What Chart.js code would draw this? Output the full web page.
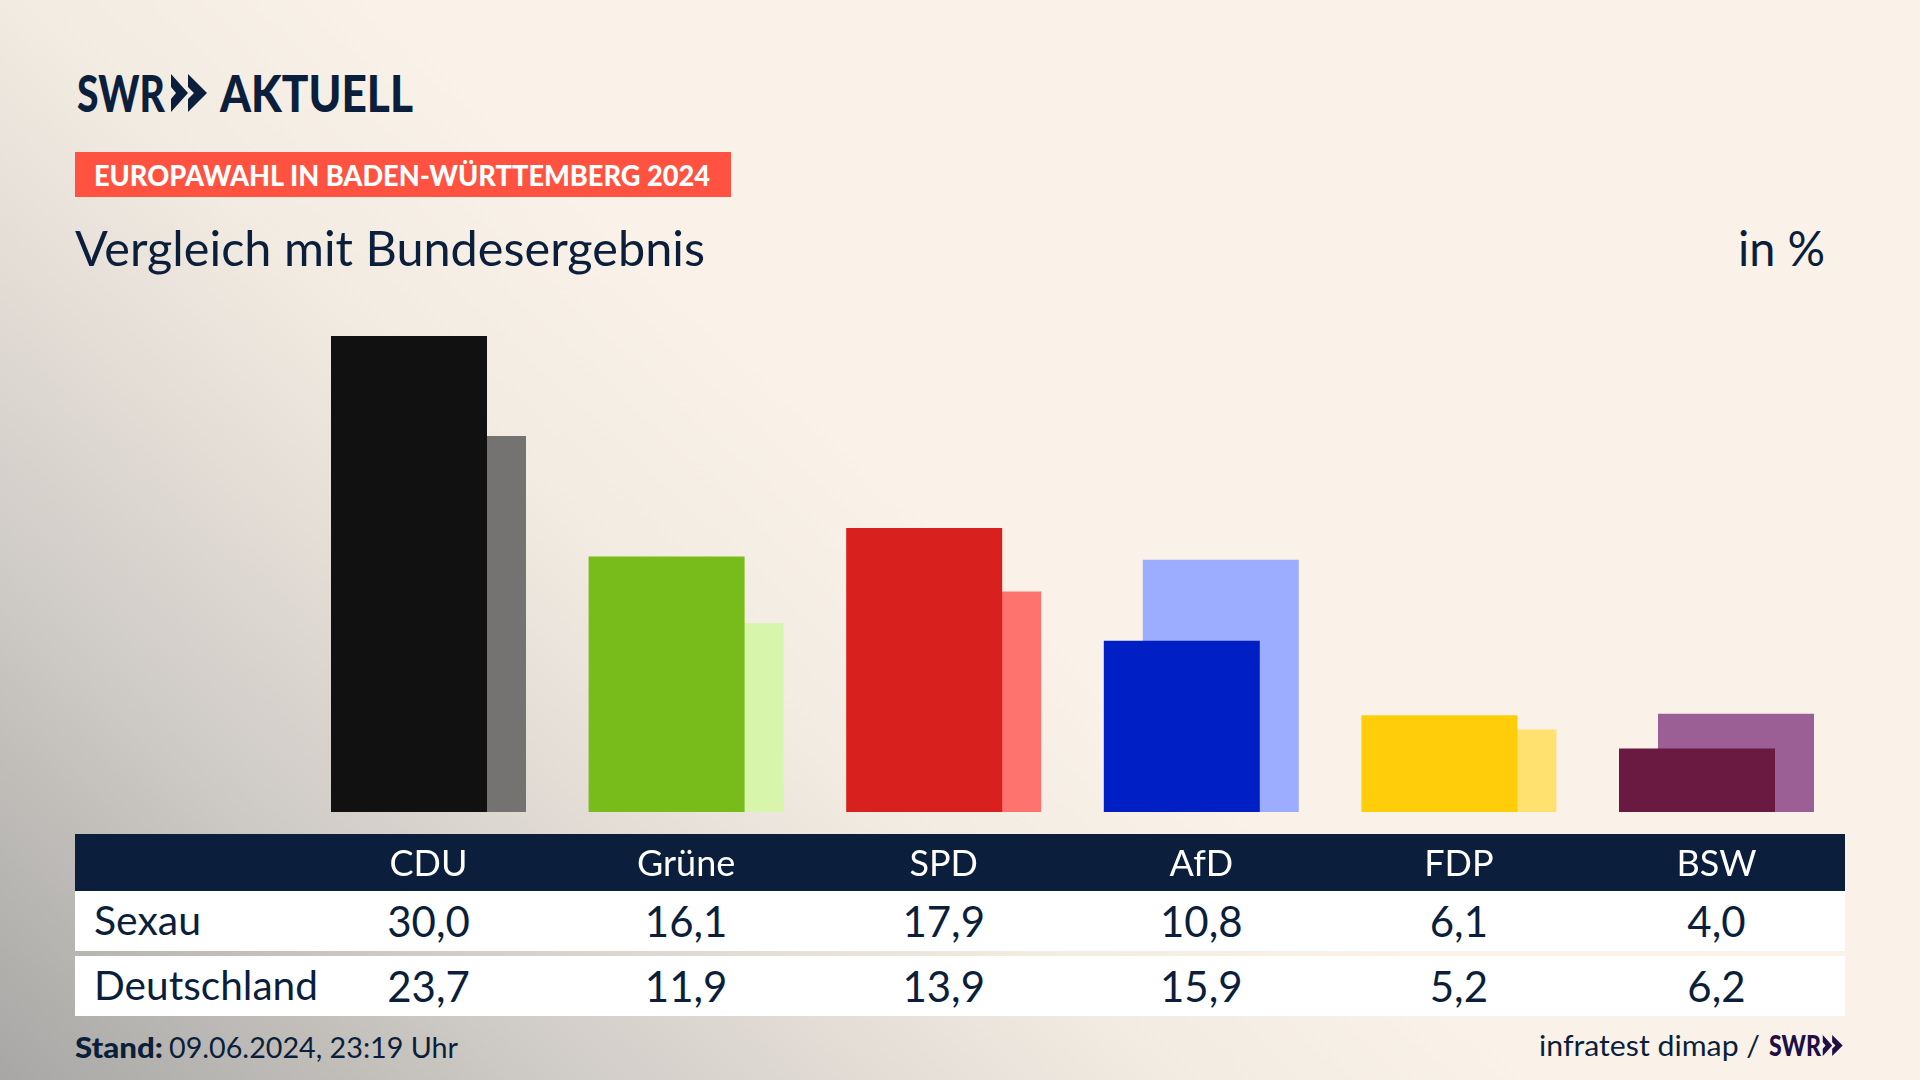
<!DOCTYPE html>
<html lang="de">
<head>
<meta charset="utf-8">
<title>Europawahl in Baden-Württemberg 2024</title>
<script src="https://cdn.jsdelivr.net/npm/chart.js@4/dist/chart.umd.min.js"></script>
<style>
  html,body{margin:0;padding:0;width:1920px;height:1080px;overflow:hidden}
  body{position:relative;font-family:Lato,"Open Sans",sans-serif;color:#0b1f3c;
    background:linear-gradient(43deg,#a8a7a5 0%,#cfcbc6 18%,#e6dfd8 30%,#f2ebe1 38%,#faf2e8 50%,#faf2e8 100%)}
  .t{position:absolute;white-space:nowrap;transform-origin:0 50%;line-height:1}
  .band{position:absolute;left:75px;width:1770px}
  .cell{position:absolute;transform:translateX(-50%);white-space:nowrap;line-height:1;font-size:42px}
  canvas{position:absolute;left:0;top:0}
  svg{position:absolute}
</style>
</head>
<body>
<div class="band" style="top:834px;height:57px;background:#0b1f3c"></div>
<div class="band" style="top:891px;height:60px;background:#fff"></div>
<div class="band" style="top:956px;height:60px;background:#fff"></div>

<div class="t" data-w="88" style="left:77px;top:67px;font-size:51px;font-weight:900">SWR</div>
<svg style="left:171px;top:74px" width="37" height="38" viewBox="0 0 37 38"><path fill="#0b1f3c" d="M0 0 L17 19 L0 38 L0 25 L5 19 L0 13 Z M17 0 L36 19 L17 38 L17 25 L23 19 L17 13 Z"/></svg>
<div class="t" data-w="193" style="left:220px;top:67px;font-size:51px;font-weight:900">AKTUELL</div>

<div style="position:absolute;left:75px;top:152px;width:656px;height:45px;background:#ff5240"></div>
<div class="t" data-w="616" style="left:94px;top:160px;font-size:29px;font-weight:900;color:#fff">EUROPAWAHL IN BADEN-WÜRTTEMBERG 2024</div>
<div class="t" data-w="630" style="left:75px;top:224px;font-size:48px">Vergleich mit Bundesergebnis</div>
<div class="t" data-w="87" style="left:1738px;top:224px;font-size:48px">in %</div>

<div id="rows"></div>

<div class="t" data-w="88" style="left:75px;top:1032px;font-size:29px;font-weight:900">Stand:</div>
<div class="t" data-w="289" style="left:169px;top:1032px;font-size:29px">09.06.2024, 23:19 Uhr</div>
<div class="t" data-w="221" style="left:1539px;top:1030px;font-size:29px">infratest dimap /</div>
<div class="t" data-w="52" style="left:1769px;top:1031px;font-size:28px;font-weight:900;color:#1f0f45">SWR</div>
<svg style="left:1822px;top:1035px" width="22" height="21" viewBox="0 0 37 38"><path fill="#1f0f45" d="M0 0 L17 19 L0 38 L0 25 L5 19 L0 13 Z M17 0 L36 19 L17 38 L17 25 L23 19 L17 13 Z"/></svg>

<canvas id="chart" width="1920" height="1080"></canvas>

<script>
const parties     = ["CDU", "Grüne", "SPD", "AfD", "FDP", "BSW"];
const sexau       = [30.0, 16.1, 17.9, 10.8, 6.1, 4.0];
const deutschland = [23.7, 11.9, 13.9, 15.9, 5.2, 6.2];
const rowNames    = ["Sexau", "Deutschland"];
const darkColors  = ["#111111", "#78bc1b", "#d8201e", "#0020c6", "#ffcd0a", "#6a1a40"];
const lightColors = ["#747372", "#d7f5ab", "#ff736e", "#9cacff", "#ffe170", "#9b5f96"];

const de = v => v.toFixed(1).replace(".", ",");

/* chart geometry */
const left = 299.7, right = 1845.3, top0 = 336, base = 812;
const catW = (right - left) / parties.length;
const barW = 156, shift = 39;

new Chart(document.getElementById("chart"), {
  type: "bar",
  data: {
    labels: parties,
    datasets: [
      { label: rowNames[0], data: sexau, backgroundColor: darkColors },
      { label: rowNames[1], data: deutschland, backgroundColor: lightColors }
    ]
  },
  options: {
    responsive: false,
    animation: false,
    events: [],
    devicePixelRatio: 1,
    categoryPercentage: shift * 2 / catW,
    barPercentage: barW / shift,
    layout: { padding: { left: left, right: 1920 - right, top: top0, bottom: 0 } },
    plugins: { legend: { display: false }, tooltip: { enabled: false }, title: { display: false } },
    scales: {
      y: { display: false, min: 0, max: 30 },
      x: {
        afterFit(s) { s.height = 1080 - base; },
        grid: { display: false, drawTicks: false },
        border: { display: false },
        ticks: { color: "#ffffff", padding: 31, autoSkip: false, maxRotation: 0,
                 font: { family: "Lato", size: 36, lineHeight: 1.2 } }
      }
    }
  }
});

/* table rows */
const rows = document.getElementById("rows");
[[sexau, 900], [deutschland, 965]].forEach(([vals, y], r) => {
  const n = document.createElement("div");
  n.className = "t";
  n.dataset.w = r ? 224 : 107;
  n.style.cssText = `left:94px;top:${y}px;font-size:40px`;
  n.textContent = rowNames[r];
  rows.appendChild(n);
  vals.forEach((v, i) => {
    const c = document.createElement("div");
    c.className = "cell";
    c.style.left = (left + catW * (i + .5)) + "px";
    c.style.top = y + "px";
    c.textContent = de(v);
    rows.appendChild(c);
  });
});

/* fit text widths */
document.querySelectorAll(".t[data-w]").forEach(e => {
  const w = e.getBoundingClientRect().width;
  e.style.transform = `scaleX(${e.dataset.w / w})`;
});
</script>
</body>
</html>
